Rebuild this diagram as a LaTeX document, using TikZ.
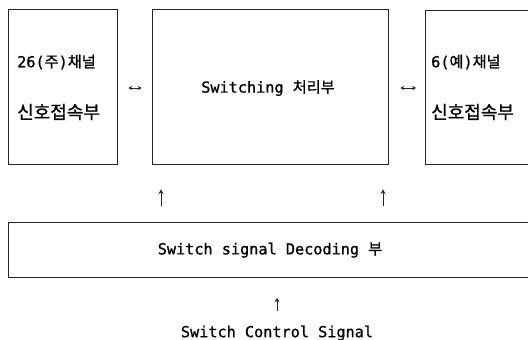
\documentclass[tikz,border=0pt]{standalone}
\usepackage{fontspec}
\newfontfamily\mono{DejaVu Sans Mono}[FakeBold=0.9]
\newfontfamily\kr{Noto Sans CJK KR}[FakeBold=0.9]
\usetikzlibrary{arrows.meta}
\begin{document}
\begin{tikzpicture}[x=1pt,y=-1pt,
  box/.style={draw=black!85, line width=0.8pt, inner sep=0pt},
  lbl/.style={font=\fontsize{15.2}{17}\selectfont\mono, inner sep=0pt},
  krl/.style={font=\fontsize{18}{19}\selectfont\kr, inner sep=0pt},
  arr/.style={line width=0.9pt, draw=black!85, -{Stealth[length=4.5pt,width=5pt]}},
  dbl/.style={line width=0.9pt, draw=black!85, {Stealth[length=3.8pt,width=4.2pt]}-{Stealth[length=3.8pt,width=4.2pt]}}]
\clip (0,0) rectangle (528,340);
% boxes
\node[box, minimum width=109pt, minimum height=155pt] (L) at (62.5,86.5) {};
\node[box, minimum width=236pt, minimum height=155pt] (M) at (270,86.5) {};
\node[box, minimum width=140pt, minimum height=154pt, anchor=north west] (R) at (425,10) {};
\node[box, minimum width=560pt, minimum height=55pt, anchor=north west] (D) at (8,222) {};
% texts
\node[lbl, anchor=west] (L1) at (17,62) {26({\kr 주}){\kr 채널}};
\node[krl, anchor=west] (L2) at (17,112) {신호접속부};
\node[lbl] (M1) at (268,88) {Switching {\kr 처리부}};
\node[lbl, anchor=west] (R1) at (431,62) {6({\kr 예}){\kr 채널}};
\node[krl, anchor=west] (R2) at (431,112) {신호접속부};
\node[lbl] (D1) at (270,250) {Switch signal Decoding {\kr 부}};
\node[lbl] (C1) at (277,333) {Switch Control Signal};
% connectors
\draw[dbl, shorten <=11pt, shorten >=10pt] (L.east |- 0,88) -- (M.west |- 0,88);
\draw[dbl, shorten <=12pt, shorten >=9pt] (M.east |- 0,88) -- (R.west |- 0,88);
\draw[arr, shorten <=16pt, shorten >=25pt] (D.north -| 161,0) -- (M.south -| 161,0);
\draw[arr, shorten <=16pt, shorten >=25pt] (D.north -| 383,0) -- (M.south -| 383,0);
\draw[arr, shorten <=14pt, shorten >=20pt] (C1.north) -- (D.south -| C1.north);
\end{tikzpicture}
\end{document}
